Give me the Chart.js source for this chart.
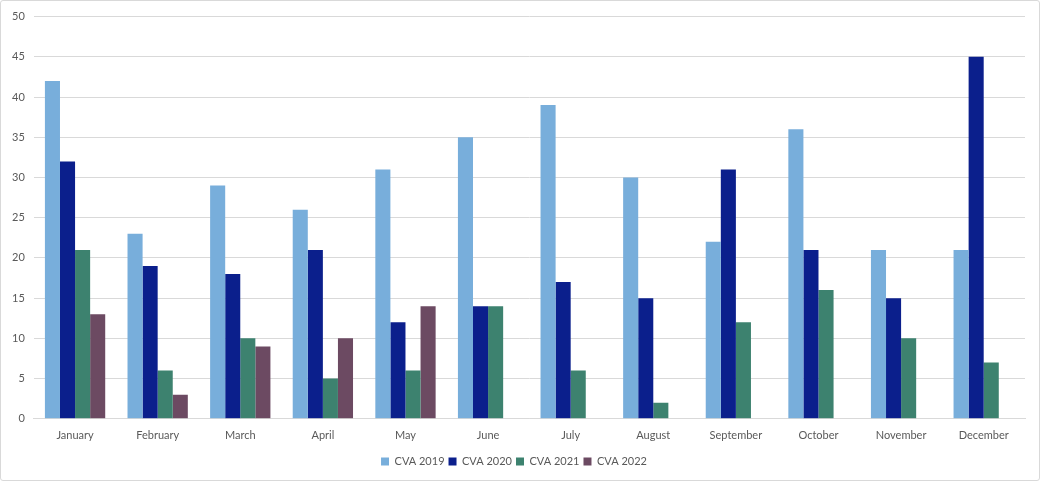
<!DOCTYPE html>
<html>
<head>
<meta charset="utf-8">
<script src="https://cdn.jsdelivr.net/npm/chart.js@4"></script>
<style>
  html, body { margin: 0; padding: 0; background: #fff; }
  #wrap { position: relative; width: 1038px; height: 479px; border: 1px solid #d9d9d9; border-radius: 3px; }
</style>
</head>
<body>
<div id="wrap"><canvas id="chart"></canvas></div>
<script>
const months = ["January", "February", "March", "April", "May", "June", "July", "August", "September", "October", "November", "December"];
const cva2019 = [42, 23, 29, 26, 31, 35, 39, 30, 22, 36, 21, 21];
const cva2020 = [32, 19, 18, 21, 12, 14, 17, 15, 31, 21, 15, 45];
const cva2021 = [21, 6, 10, 5, 6, 14, 6, 2, 12, 16, 10, 7];
const cva2022 = [13, 3, 9, 10, 14, null, null, null, null, null, null, null];

const tickFont = { family: "Lato, 'Liberation Sans', sans-serif", size: 11 };
const tickColor = "#595959";

new Chart(document.getElementById("chart"), {
    type: "bar",
    data: {
        labels: months,
        datasets: [
            { label: "CVA 2019", data: cva2019, backgroundColor: "#78AEDB" },
            { label: "CVA 2020", data: cva2020, backgroundColor: "#0B1F8C" },
            { label: "CVA 2021", data: cva2021, backgroundColor: "#3D826F" },
            { label: "CVA 2022", data: cva2022, backgroundColor: "#6C4A62" },
        ],
    },
    options: {
        responsive: true,
        maintainAspectRatio: false,
        animation: false,
        layout: { padding: { left: 2, right: 14, top: 2, bottom: 3 } },
        datasets: { bar: { categoryPercentage: 0.73, barPercentage: 1.0 } },
        scales: {
            x: {
                grid: { display: false, drawTicks: false },
                border: { color: "#d9d9d9" },
                ticks: { color: tickColor, font: tickFont, padding: 10, maxRotation: 0 },
            },
            y: {
                min: 0,
                max: 50,
                grid: { color: "#d9d9d9", drawTicks: false },
                border: { display: false },
                ticks: { stepSize: 5, color: tickColor, font: tickFont, padding: 9 },
            },
        },
        plugins: {
            legend: {
                position: "bottom",
                labels: { color: tickColor, font: tickFont, boxWidth: 8, boxHeight: 8, padding: 4 },
            },
            tooltip: { enabled: false },
        },
    },
});
</script>
</body>
</html>
